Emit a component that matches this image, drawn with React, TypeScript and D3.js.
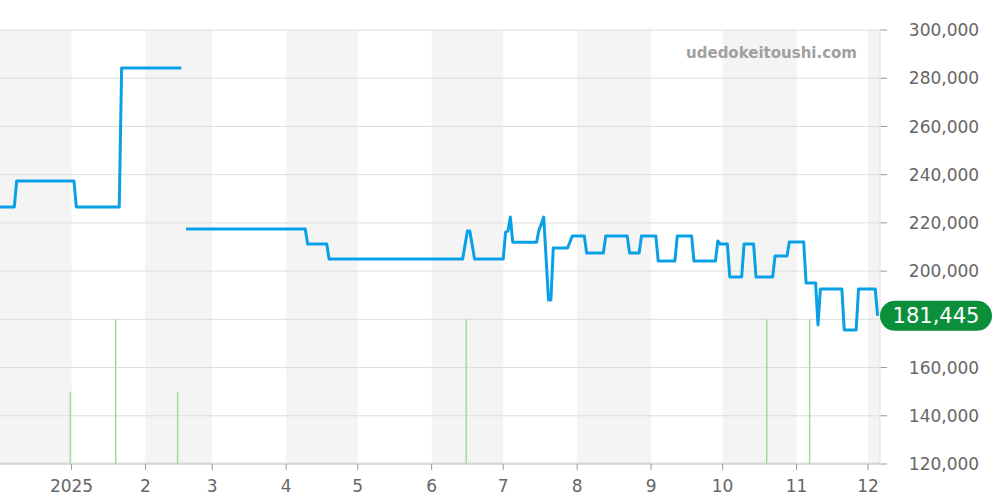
import React from "react";
import * as d3 from "d3";

const priceDates: string[] = [
  "2024-12-02", "2024-12-08", "2024-12-09", "2025-01-02", "2025-01-03", "2025-01-21", "2025-01-22", "2025-02-16",
  "2025-02-17",
  "2025-02-18", "2025-04-09", "2025-04-10", "2025-04-18", "2025-04-19", "2025-06-14", "2025-06-16", "2025-06-17",
  "2025-06-19", "2025-07-01", "2025-07-02", "2025-07-03", "2025-07-04", "2025-07-05", "2025-07-15", "2025-07-16",
  "2025-07-17", "2025-07-18", "2025-07-20", "2025-07-21", "2025-07-22", "2025-07-28", "2025-07-30", "2025-08-04",
  "2025-08-05", "2025-08-12", "2025-08-13", "2025-08-22", "2025-08-23", "2025-08-27", "2025-08-28", "2025-09-03",
  "2025-09-04", "2025-09-11", "2025-09-12", "2025-09-18", "2025-09-19", "2025-09-28", "2025-09-29", "2025-09-30",
  "2025-10-03", "2025-10-04", "2025-10-09", "2025-10-10", "2025-10-14", "2025-10-15", "2025-10-22", "2025-10-23",
  "2025-10-28", "2025-10-29", "2025-11-04", "2025-11-05", "2025-11-09", "2025-11-10", "2025-11-11", "2025-11-20",
  "2025-11-21", "2025-11-26", "2025-11-27", "2025-12-04", "2025-12-05",
];
const priceValues: (number | null)[] = [
  226600, 226600, 237400, 237400, 226600, 226600, 284200, 284200,
  null,
  217500, 217500, 211200, 211200, 205000, 205000, 216600, 216600,
  205000, 205000, 216200, 216600, 222400, 212000, 212000, 217000,
  219600, 222400, 188000, 188000, 209600, 209600, 214600, 214600,
  207500, 207500, 214600, 214600, 207500, 207500, 214600, 214600,
  204200, 204200, 214600, 214600, 204200, 204200, 212500, 211200,
  211200, 197600, 197600, 211200, 211200, 197600, 197600, 206300,
  206300, 212100, 212100, 195100, 195100, 177700, 192600, 192600,
  175600, 175600, 192600, 192600, 181445,
];

const volumeDates: string[] = ["2024-12-31", "2025-01-19", "2025-02-14", "2025-06-15", "2025-10-19", "2025-11-06"];
const volumeValues: number[] = [1, 2, 1, 2, 2, 2];

const yTicks: number[] = [120000, 140000, 160000, 180000, 200000, 220000, 240000, 260000, 280000, 300000];
const monthTicks: string[] = [
  "2025-01-01", "2025-02-01", "2025-03-01", "2025-04-01", "2025-05-01", "2025-06-01",
  "2025-07-01", "2025-08-01", "2025-09-01", "2025-10-01", "2025-11-01", "2025-12-01",
];
const monthLabels: string[] = ["2025", "2", "3", "4", "5", "6", "7", "8", "9", "10", "11", "12"];
const shadedMonths: [string, string][] = [
  ["2024-12-01", "2025-01-01"],
  ["2025-02-01", "2025-03-01"],
  ["2025-04-01", "2025-05-01"],
  ["2025-06-01", "2025-07-01"],
  ["2025-08-01", "2025-09-01"],
  ["2025-10-01", "2025-11-01"],
  ["2025-12-01", "2026-01-01"],
];
const lastPrice = 181445;
const watermark = "udedokeitoushi.com";

const parse = (s: string) => new Date(s + "T00:00:00");
const parseNoon = (s: string) => new Date(s + "T12:00:00");

export default function App() {
  const W = 1000, H = 500;
  const left = 0, right = 880, top = 30, bottom = 464;
  const x = d3.scaleTime().domain([parse("2024-12-02"), parse("2025-12-06")]).range([left, right]);
  const y = d3.scaleLinear().domain([120000, 300000]).range([bottom, top]);
  const yv = d3.scaleLinear().domain([0, 6]).range([bottom, top]);

  const pts = priceDates.map((d, i) => ({ d: parse(d), v: priceValues[i] }));
  const line = d3
    .line<{ d: Date; v: number | null }>()
    .defined((p) => p.v !== null)
    .x((p) => x(p.d))
    .y((p) => y(p.v as number));

  const font = "'DejaVu Sans', Verdana, sans-serif";
  const clamp = (v: number) => Math.max(left, Math.min(right, v));
  const badgeY = y(lastPrice);

  return (
    <svg width={W} height={H} style={{ position: "absolute", left: 0, top: 0, background: "#fff" }}>
      {shadedMonths.map(([a, b], i) => {
        const x0 = clamp(x(parse(a)));
        const x1 = clamp(x(parse(b)));
        return <rect key={i} x={x0} y={top} width={x1 - x0} height={bottom - top} fill="#f4f4f4" />;
      })}
      {yTicks.map((t) => (
        <g key={t}>
          <line x1={left} x2={right} y1={y(t)} y2={y(t)} stroke="#dddddd" strokeWidth={1} />
          <line x1={right} x2={right + 7} y1={y(t)} y2={y(t)} stroke="#999" strokeWidth={1} />
          {Math.abs(y(t) - badgeY) > 18 && (
            <text x={944} y={y(t)} dy="0.36em" textAnchor="middle" fontFamily={font} fontSize={17} fill="#666">
              {d3.format(",")(t)}
            </text>
          )}
        </g>
      ))}
      <line x1={right} x2={right} y1={top} y2={bottom} stroke="#e2e2e2" strokeWidth={1} />
      <text x={857} y={58} textAnchor="end" fontFamily={font} fontWeight="bold" fontSize={15} fill="#a0a0a0">
        {watermark}
      </text>
      {volumeDates.map((d, i) => (
        <rect
          key={d}
          x={x(parseNoon(d)) - 0.75}
          y={yv(volumeValues[i])}
          width={1.5}
          height={bottom - yv(volumeValues[i])}
          fill="#9fdb9f"
        />
      ))}
      <line x1={left} x2={right} y1={bottom - 1} y2={bottom - 1} stroke="#a8dca8" strokeWidth={1} strokeDasharray="1,1" />
      <line x1={left} x2={right} y1={bottom} y2={bottom} stroke="#cccccc" strokeWidth={1} />
      {monthTicks.map((t, i) => (
        <g key={t}>
          <line x1={x(parse(t))} x2={x(parse(t))} y1={bottom} y2={bottom + 6} stroke="#999" strokeWidth={1} />
          <text x={x(parse(t))} y={492} textAnchor="middle" fontFamily={font} fontSize={17} fill="#666">
            {monthLabels[i]}
          </text>
        </g>
      ))}
      <path d={line(pts) || ""} fill="none" stroke="#0aa0e6" strokeWidth={3} strokeLinejoin="round" />
      <rect x={880} y={badgeY - 15} width={112} height={30} rx={15} fill="#0b8f3b" />
      <text x={936} y={badgeY} dy="0.36em" textAnchor="middle" fontFamily={font} fontSize={21} fill="#fff">
        {d3.format(",")(lastPrice)}
      </text>
    </svg>
  );
}
